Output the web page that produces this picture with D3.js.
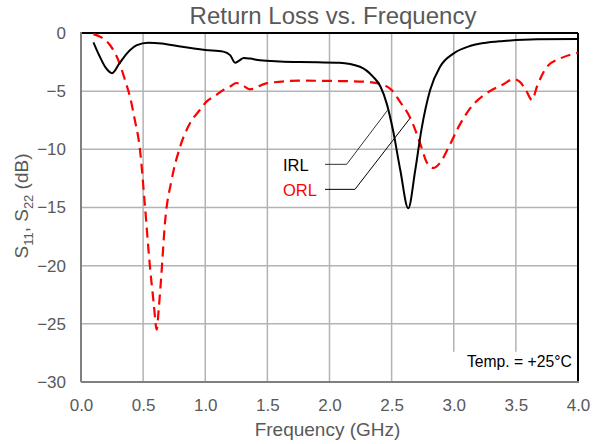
<!DOCTYPE html>
<meta charset="utf-8">
<script src="https://d3js.org/d3.v7.min.js"></script>
<style>
  body { margin: 0; background: #fff; }
  text { font-family: "Liberation Sans", Arial, sans-serif; }
</style>
<div id="my_dataviz"></div>
<script>

  // IRL (S11), black solid
  var irlFreq = [0.1, 0.15, 0.2, 0.25, 0.31, 0.37, 0.45, 0.54, 0.65, 0.8, 1.0, 1.145, 1.2, 1.24, 1.27, 1.31, 1.36, 1.44, 1.6, 1.76, 1.9, 2.08, 2.245, 2.35, 2.41, 2.46, 2.51, 2.57, 2.634, 2.69, 2.74, 2.81, 2.89, 3.0, 3.13, 3.25, 3.4, 3.67, 4.0];
  var irlVal  = [-0.8, -2.0, -3.0, -3.45, -2.6, -1.75, -1.05, -0.83, -0.9, -1.17, -1.46, -1.6, -1.9, -2.55, -2.4, -2.15, -2.2, -2.35, -2.45, -2.5, -2.52, -2.55, -2.9, -3.75, -4.6, -6.05, -8.3, -11.8, -15.07, -11.8, -8.3, -4.9, -2.9, -1.75, -1.12, -0.85, -0.69, -0.54, -0.52];

  // ORL (S22), red dashed
  var orlFreq = [0.1, 0.16, 0.233, 0.31, 0.354, 0.394, 0.43, 0.475, 0.515, 0.555, 0.585, 0.609, 0.625, 0.644, 0.676, 0.73, 0.797, 0.877, 0.958, 1.01, 1.08, 1.145, 1.2, 1.25, 1.3, 1.36, 1.49, 1.76, 2.08, 2.3, 2.41, 2.5, 2.567, 2.65, 2.73, 2.78, 2.835, 2.9, 2.96, 3.04, 3.13, 3.29, 3.4, 3.48, 3.53, 3.58, 3.63, 3.67, 3.75, 3.855, 4.0];
  var orlVal  = [-0.1, -0.35, -1.03, -2.6, -4.04, -5.47, -7.3, -10.06, -14.9, -20.1, -23.2, -25.5, -23.8, -21.2, -16.3, -12.6, -9.8, -7.76, -6.6, -5.9, -5.4, -4.9, -4.6, -4.3, -4.5, -4.84, -4.33, -4.1, -4.13, -4.2, -4.38, -4.9, -5.9, -7.3, -9.5, -11.06, -11.6, -11.0, -9.8, -8.05, -6.5, -5.0, -4.4, -3.96, -4.18, -4.9, -5.76, -4.6, -2.9, -2.2, -1.7];

  var xTicks = [0, 0.5, 1.0, 1.5, 2.0, 2.5, 3.0, 3.5, 4.0];
  var yTicks = [0, -5, -10, -15, -20, -25, -30];

  var margin = {top: 33, right: 23, bottom: 62, left: 81},
      width = 601 - margin.left - margin.right,
      height = 444 - margin.top - margin.bottom;

  var svg = d3.select("#my_dataviz")
    .append("svg")
      .attr("width", 601)
      .attr("height", 444);

  var g = svg.append("g")
      .attr("transform", "translate(" + margin.left + "," + margin.top + ")");

  var x = d3.scaleLinear().domain([0, 4]).range([0, width]);
  var y = d3.scaleLinear().domain([-30, 0]).range([height, 0]);

  // grid
  g.append("g")
    .selectAll("line")
    .data(xTicks.slice(1, -1))
    .enter().append("line")
      .attr("x1", d => x(d)).attr("x2", d => x(d))
      .attr("y1", 0).attr("y2", height)
      .style("stroke", "#b3b3b3").style("stroke-width", 1.5);
  g.append("g")
    .selectAll("line")
    .data(yTicks.slice(1, -1))
    .enter().append("line")
      .attr("x1", 0).attr("x2", width)
      .attr("y1", d => y(d)).attr("y2", d => y(d))
      .style("stroke", "#b3b3b3").style("stroke-width", 1.5);

  // temperature box covers the grid
  g.append("rect")
    .attr("x", x(2.975)).attr("y", y(-27.4))
    .attr("width", x(4) - x(2.975)).attr("height", y(-30) - y(-27.4))
    .style("fill", "#fff");
  g.append("text")
    .attr("x", x(3.95)).attr("y", y(-28.7))
    .attr("text-anchor", "end")
    .style("font-size", "15.7px").style("fill", "#000")
    .text("Temp. = +25°C");

  // frame
  g.append("line").attr("x1", 0).attr("x2", width).attr("y1", 0).attr("y2", 0)
    .style("stroke", "#000").style("stroke-width", 2);
  g.append("line").attr("x1", width).attr("x2", width).attr("y1", 0).attr("y2", height)
    .style("stroke", "#000").style("stroke-width", 2);
  g.append("line").attr("x1", 0).attr("x2", 0).attr("y1", -1).attr("y2", height)
    .style("stroke", "#808080").style("stroke-width", 2);
  g.append("line").attr("x1", 0).attr("x2", width + 1).attr("y1", height).attr("y2", height)
    .style("stroke", "#808080").style("stroke-width", 2);

  // axes labels
  var xAxis = d3.axisBottom(x).tickValues(xTicks).tickFormat(d3.format(".1f")).tickSize(0).tickPadding(17);
  var xa = g.append("g").attr("transform", "translate(0," + height + ")").call(xAxis);
  xa.select(".domain").remove();
  xa.selectAll("text").style("font-size", "17px").style("fill", "#595959")
    .style("font-family", "'Liberation Sans', Arial, sans-serif");

  var yAxis = d3.axisLeft(y).tickValues(yTicks).tickFormat(d3.format("d")).tickSize(0).tickPadding(15);
  var ya = g.append("g").call(yAxis);
  ya.select(".domain").remove();
  ya.selectAll("text").style("font-size", "17px").style("fill", "#595959")
    .style("font-family", "'Liberation Sans', Arial, sans-serif");

  // curves
  var line = d3.line()
    .x(d => x(d[0]))
    .y(d => y(d[1]))
    .curve(d3.curveMonotoneX);

  g.append("path")
    .datum(orlFreq.map((f, i) => [f, orlVal[i]]))
    .attr("d", line)
    .style("fill", "none").style("stroke", "#ff0000")
    .style("stroke-width", 2.2).style("stroke-dasharray", "10,6");

  g.append("path")
    .datum(irlFreq.map((f, i) => [f, irlVal[i]]))
    .attr("d", line)
    .style("fill", "none").style("stroke", "#000")
    .style("stroke-width", 2);

  // legend labels with leaders
  g.append("text").attr("x", x(1.626)).attr("y", y(-11.86))
    .style("font-size", "16.5px").style("fill", "#000").text("IRL");
  g.append("text").attr("x", x(1.626)).attr("y", y(-14.0))
    .style("font-size", "16.5px").style("fill", "#ff0000").text("ORL");

  var leader = d3.line().x(d => x(d[0])).y(d => y(d[1]));
  g.append("path")
    .attr("d", leader([[1.964, -11.29], [2.138, -11.29], [2.473, -6.56]]))
    .style("fill", "none").style("stroke", "#333").style("stroke-width", 1);
  g.append("path")
    .attr("d", leader([[1.964, -13.44], [2.205, -13.44], [2.648, -7.33]]))
    .style("fill", "none").style("stroke", "#000").style("stroke-width", 1);

  // titles
  svg.append("text")
    .attr("x", 333).attr("y", 23.5)
    .attr("text-anchor", "middle")
    .style("font-size", "24px").style("fill", "#595959")
    .text("Return Loss vs. Frequency");

  svg.append("text")
    .attr("x", margin.left + width / 2 - 2).attr("y", 436)
    .attr("text-anchor", "middle")
    .style("font-size", "19px").style("fill", "#595959")
    .text("Frequency (GHz)");

  var yt = svg.append("text")
    .attr("transform", "translate(28,206) rotate(-90)")
    .attr("text-anchor", "middle")
    .style("font-size", "19px").style("fill", "#595959");
  yt.append("tspan").text("S");
  yt.append("tspan").attr("dy", 5).style("font-size", "13px").text("11");
  yt.append("tspan").attr("dy", -5).text(", S");
  yt.append("tspan").attr("dy", 5).style("font-size", "13px").text("22");
  yt.append("tspan").attr("dy", -5).text(" (dB)");

</script>
